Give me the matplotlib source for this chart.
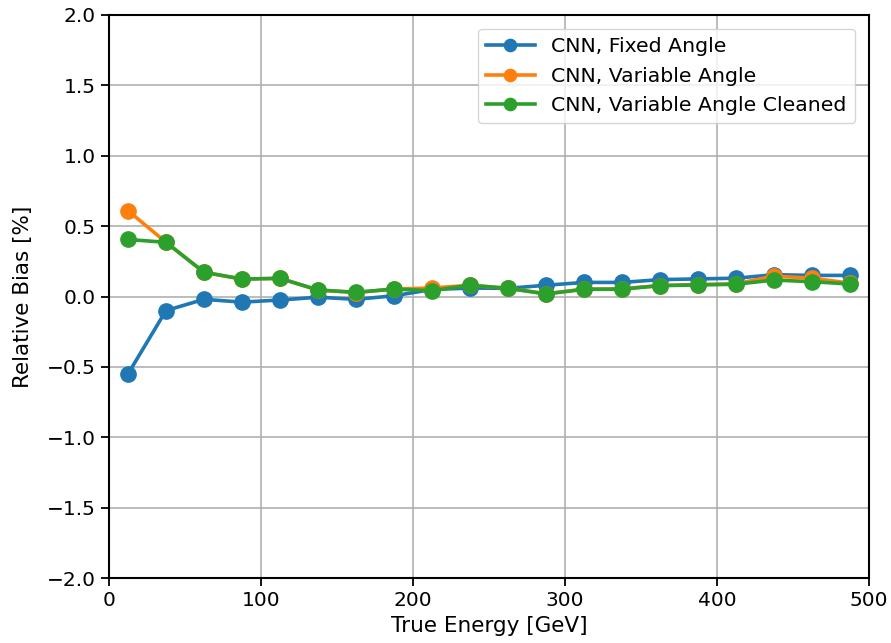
import numpy as np
import matplotlib
matplotlib.use('Agg')
import matplotlib.pyplot as plt

energy = [12.5, 37.5, 62.5, 87.5, 112.5, 137.5, 162.5, 187.5, 212.5, 237.5,
          262.5, 287.5, 312.5, 337.5, 362.5, 387.5, 412.5, 437.5, 462.5, 487.5]
fixed_angle = [-0.55, -0.10, -0.02, -0.04, -0.025, -0.005, -0.02, 0.005, 0.05, 0.06,
               0.058, 0.08, 0.10, 0.10, 0.12, 0.125, 0.13, 0.155, 0.15, 0.15]
variable_angle = [0.61, 0.385, 0.172, 0.124, 0.129, 0.046, 0.028, 0.053, 0.06, 0.08,
                  0.058, 0.02, 0.052, 0.055, 0.078, 0.085, 0.09, 0.145, 0.13, 0.095]
variable_cleaned = [0.405, 0.385, 0.172, 0.124, 0.129, 0.046, 0.03, 0.053, 0.041, 0.08,
                    0.058, 0.018, 0.051, 0.052, 0.077, 0.082, 0.087, 0.117, 0.105, 0.089]

plt.rcParams['font.size'] = 14.5

fig = plt.figure(figsize=(8.91, 6.43), dpi=100)
ax = fig.add_axes([109 / 891, 65 / 643, 760 / 891, 563 / 643])

ax.plot(energy, fixed_angle, '-o', color='#1f77b4', lw=2.6, ms=11, label='CNN, Fixed Angle')
ax.plot(energy, variable_angle, '-o', color='#ff7f0e', lw=2.6, ms=11, label='CNN, Variable Angle')
ax.plot(energy, variable_cleaned, '-o', color='#2ca02c', lw=2.6, ms=11, label='CNN, Variable Angle Cleaned')

ax.set_xlim(0, 500)
ax.set_ylim(-2, 2)
ax.set_yticks(np.arange(-2, 2.01, 0.5))
ax.set_xlabel('True Energy [GeV]', fontsize=15.5)
ax.set_ylabel('Relative Bias [%]', fontsize=15.5, labelpad=10)
ax.grid(True, color='#b0b0b0', lw=1.2)
for s in ax.spines.values():
    s.set_linewidth(1.5)
ax.tick_params(width=1.3, length=6)
ax.legend(loc='upper right', fontsize=14.7, handlelength=2.4, markerscale=0.8,
          borderaxespad=0.7)

fig.savefig('out.png', dpi=100)
